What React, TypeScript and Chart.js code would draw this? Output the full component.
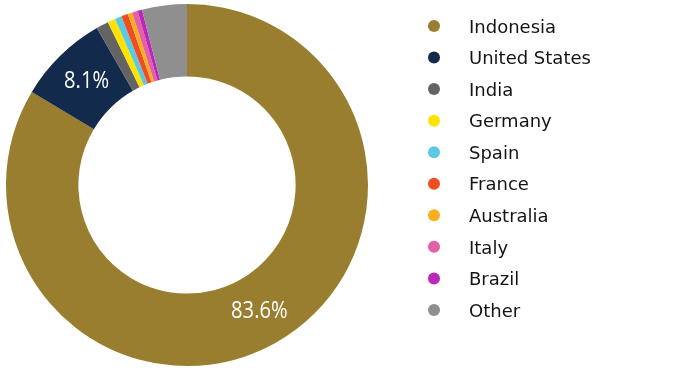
import React, { useEffect, useRef } from "react";
import { Chart, registerables } from "chart.js";

Chart.register(...registerables);

const countries = [
  "Indonesia",
  "United States",
  "India",
  "Germany",
  "Spain",
  "France",
  "Australia",
  "Italy",
  "Brazil",
  "Other",
];

const shares = [83.6, 8.1, 1.1, 0.7, 0.6, 0.6, 0.4, 0.5, 0.4, 4.0];

// only the two largest slices carry a value label
const labelledSlices = [0, 1];

const sliceColors = [
  "#9a7e30",
  "#122a4c",
  "#646464",
  "#ffe300",
  "#5bc9e4",
  "#f04d23",
  "#f8ae1d",
  "#e35fa6",
  "#bb28b9",
  "#8f8f8f",
];

const valueLabels = {
  id: "valueLabels",
  afterDatasetsDraw(chart: any) {
    const ctx = chart.ctx;
    const meta = chart.getDatasetMeta(0);
    ctx.save();
    ctx.fillStyle = "#ffffff";
    ctx.textAlign = "center";
    ctx.textBaseline = "middle";
    ctx.font = "24px 'Open Sans'";
    labelledSlices.forEach((i) => {
      const arc = meta.data[i];
      const p = arc.tooltipPosition();
      ctx.save();
      ctx.translate(p.x + 1, p.y);
      ctx.scale(0.84, 1);
      ctx.fillText(shares[i].toFixed(1) + "%", 0, 0);
      ctx.restore();
    });
    ctx.restore();
  },
};

const sideLegend = {
  id: "sideLegend",
  afterDraw(chart: any) {
    const ctx = chart.ctx;
    const x0 = 434;
    const y0 = 27;
    const step = 31.55;
    ctx.save();
    ctx.font = "18px 'DejaVu Sans'";
    ctx.textBaseline = "middle";
    ctx.textAlign = "left";
    chart.data.labels.forEach((name: string, i: number) => {
      const y = y0 + i * step;
      ctx.beginPath();
      ctx.fillStyle = sliceColors[i];
      ctx.arc(x0, y - 1, 6, 0, Math.PI * 2);
      ctx.fill();
      ctx.fillStyle = "#141414";
      ctx.fillText(name, 469, y + 1);
    });
    ctx.restore();
  },
};

export default function App() {
  const canvasRef = useRef<HTMLCanvasElement | null>(null);

  useEffect(() => {
    if (!canvasRef.current) return;
    const chart = new Chart(canvasRef.current, {
      type: "doughnut",
      data: {
        labels: countries,
        datasets: [
          {
            data: shares,
            backgroundColor: sliceColors,
            borderWidth: 0,
          },
        ],
      },
      options: {
        responsive: false,
        animation: false,
        cutout: "60%",
        layout: { padding: { left: 6, top: 4, right: 305, bottom: 7 } },
        plugins: {
          legend: { display: false },
          tooltip: { enabled: false },
        },
      },
      plugins: [valueLabels, sideLegend],
    });
    return () => chart.destroy();
  }, []);

  return (
    <div style={{ position: "absolute", left: 0, top: 0, width: 673, height: 373, background: "#ffffff" }}>
      <canvas ref={canvasRef} width={673} height={373} />
    </div>
  );
}
